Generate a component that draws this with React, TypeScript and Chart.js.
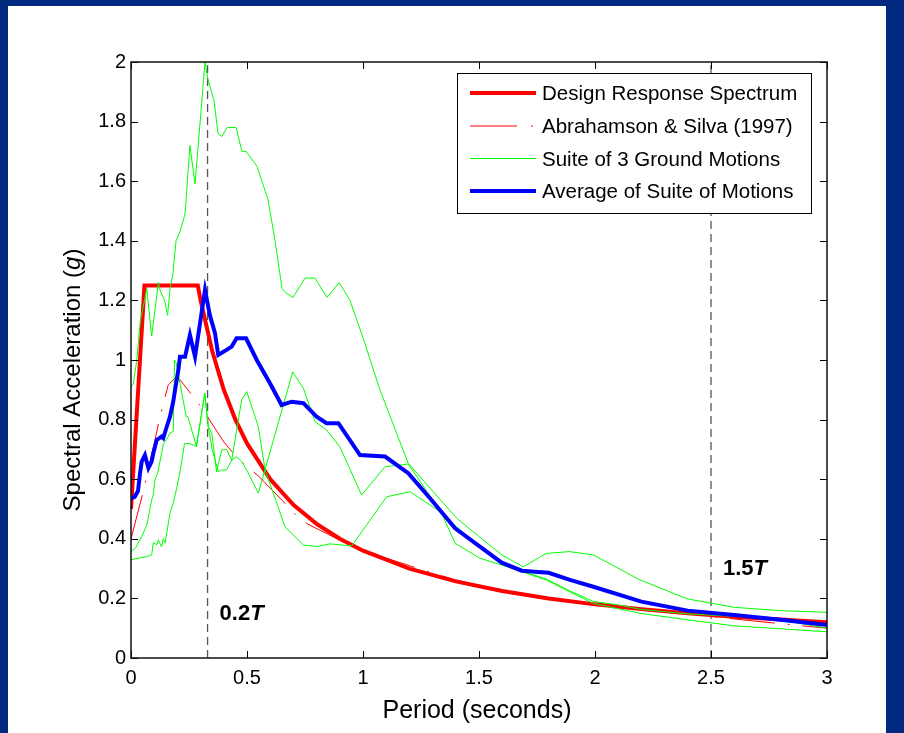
import React, { useEffect, useRef } from 'react';
import { Chart, registerables } from 'chart.js';

Chart.register(...registerables);

// ---------- axis ticks ----------
const xTicks = [0, 0.5, 1, 1.5, 2, 2.5, 3];
const yTicks = [0, 0.2, 0.4, 0.6, 0.8, 1, 1.2, 1.4, 1.6, 1.8, 2];

// ---------- labels ----------
const seriesLabels = [
  'Design Response Spectrum',
  'Abrahamson & Silva (1997)',
  'Suite of 3 Ground Motions',
  'Average of Suite of Motions',
];
const xTitle = 'Period (seconds)';
const yTitleParts = ['Spectral Acceleration (', 'g', ')'];
const markerPeriods = [0.33, 2.5];
const markerLabels = ['0.2', '1.5'];
const markerSuffix = 'T';

// ---------- Design Response Spectrum ----------
const designT = [0, 0.058, 0.288, 0.3, 0.35, 0.4, 0.45, 0.5, 0.6, 0.7, 0.8, 0.9, 1.0, 1.2, 1.4, 1.6, 1.8, 2.0, 2.2, 2.4, 2.6, 2.8, 3.0];
const designSa = [0.5, 1.25, 1.25, 1.2, 1.03, 0.9, 0.8, 0.72, 0.6, 0.514, 0.45, 0.4, 0.36, 0.3, 0.257, 0.225, 0.2, 0.18, 0.164, 0.15, 0.138, 0.129, 0.12];

// ---------- Abrahamson & Silva (1997) ----------
const asT = [0, 0.05, 0.1, 0.125, 0.16, 0.19, 0.21, 0.24, 0.3, 0.35, 0.4, 0.46, 0.55, 0.65, 0.71, 0.76, 0.85, 0.9, 1.0, 1.1, 1.2, 1.3, 1.4, 1.5, 1.6, 1.8, 2.0, 2.2, 2.4, 2.6, 2.8, 3.0];
const asSa = [0.40, 0.55, 0.72, 0.81, 0.915, 0.94, 0.935, 0.905, 0.845, 0.785, 0.725, 0.67, 0.61, 0.53, 0.48, 0.45, 0.415, 0.395, 0.365, 0.335, 0.31, 0.285, 0.262, 0.244, 0.228, 0.203, 0.183, 0.165, 0.148, 0.131, 0.115, 0.10];

// ---------- Ground motion 1 ----------
const gaT = [0, 0.01, 0.025, 0.04, 0.068, 0.089, 0.118, 0.125, 0.139, 0.145, 0.158, 0.168, 0.181, 0.194, 0.211, 0.233, 0.254, 0.276, 0.319, 0.332, 0.358, 0.375, 0.392, 0.414, 0.453, 0.478, 0.496, 0.543, 0.59, 0.621, 0.651, 0.668, 0.698, 0.75, 0.793, 0.845, 0.897, 0.944, 1.0, 1.073, 1.195, 1.404, 1.598, 1.691, 1.79, 1.89, 1.993, 2.194, 2.4, 2.6, 2.8, 3.0];
const gaSa = [0.91, 0.92, 1.0, 1.13, 1.24, 1.08, 1.26, 1.235, 1.21, 1.2, 1.15, 1.24, 1.29, 1.40, 1.43, 1.49, 1.72, 1.59, 2.0, 1.94, 1.87, 1.76, 1.75, 1.78, 1.78, 1.70, 1.70, 1.65, 1.54, 1.40, 1.24, 1.225, 1.21, 1.275, 1.275, 1.21, 1.26, 1.20, 1.075, 0.90, 0.653, 0.469, 0.346, 0.306, 0.351, 0.357, 0.346, 0.262, 0.198, 0.17, 0.159, 0.153];

// ---------- Ground motion 2 ----------
const gbT = [0, 0.03, 0.068, 0.089, 0.096, 0.111, 0.118, 0.132, 0.139, 0.147, 0.168, 0.182, 0.197, 0.21, 0.231, 0.25, 0.282, 0.318, 0.333, 0.35, 0.376, 0.391, 0.412, 0.434, 0.477, 0.499, 0.549, 0.578, 0.664, 0.743, 0.80, 0.858, 0.951, 1.102, 1.203, 1.332, 1.404, 1.504, 1.598, 1.69, 1.79, 1.892, 1.993, 2.1, 2.2, 2.4, 2.6, 2.8, 3.0];
const gbSa = [0.33, 0.335, 0.34, 0.346, 0.387, 0.38, 0.396, 0.373, 0.40, 0.386, 0.486, 0.52, 0.57, 0.62, 0.72, 0.72, 0.71, 0.888, 0.776, 0.70, 0.625, 0.631, 0.631, 0.664, 0.866, 0.894, 0.776, 0.631, 0.44, 0.379, 0.374, 0.383, 0.376, 0.541, 0.558, 0.491, 0.44, 0.374, 0.325, 0.29, 0.265, 0.225, 0.19, 0.178, 0.163, 0.148, 0.14, 0.128, 0.10];

// ---------- Ground motion 3 ----------
const gcT = [0, 0.02, 0.046, 0.068, 0.089, 0.096, 0.103, 0.115, 0.125, 0.14, 0.155, 0.168, 0.182, 0.188, 0.195, 0.238, 0.245, 0.282, 0.318, 0.333, 0.348, 0.369, 0.391, 0.412, 0.434, 0.455, 0.477, 0.506, 0.549, 0.697, 0.743, 0.793, 0.843, 0.90, 0.994, 1.095, 1.195, 1.339, 1.397, 1.504, 1.598, 1.79, 1.892, 1.993, 2.194, 2.4, 2.6, 2.8, 3.0];
const gcSa = [0.357, 0.37, 0.407, 0.446, 0.53, 0.547, 0.597, 0.62, 0.66, 0.72, 0.735, 0.755, 0.76, 1.0, 0.99, 0.81, 0.81, 0.71, 0.888, 0.776, 0.754, 0.625, 0.698, 0.70, 0.664, 0.675, 0.66, 0.62, 0.553, 0.96, 0.905, 0.793, 0.765, 0.709, 0.547, 0.642, 0.651, 0.486, 0.385, 0.335, 0.312, 0.262, 0.222, 0.183, 0.15, 0.128, 0.108, 0.098, 0.088];

// ---------- Average of suite ----------
const avT = [0, 0.016, 0.03, 0.039, 0.046, 0.06, 0.075, 0.089, 0.096, 0.111, 0.132, 0.139, 0.154, 0.168, 0.182, 0.19, 0.204, 0.211, 0.233, 0.254, 0.276, 0.319, 0.34, 0.362, 0.376, 0.412, 0.434, 0.455, 0.496, 0.542, 0.599, 0.649, 0.693, 0.743, 0.80, 0.843, 0.894, 0.987, 1.095, 1.195, 1.289, 1.397, 1.504, 1.598, 1.684, 1.80, 1.892, 1.993, 2.2, 2.4, 2.6, 2.8, 3.0];
const avSa = [0.536, 0.541, 0.56, 0.62, 0.659, 0.681, 0.637, 0.659, 0.687, 0.732, 0.743, 0.738, 0.776, 0.81, 0.86, 0.90, 0.966, 1.011, 1.011, 1.084, 1.011, 1.235, 1.15, 1.09, 1.017, 1.034, 1.045, 1.073, 1.073, 1.0, 0.922, 0.849, 0.86, 0.855, 0.81, 0.788, 0.788, 0.681, 0.676, 0.62, 0.536, 0.435, 0.374, 0.32, 0.293, 0.286, 0.262, 0.239, 0.189, 0.159, 0.144, 0.128, 0.111];

const FONT = '"Liberation Sans", Arial, Helvetica, sans-serif';
const AS_DASH = [45, 13, 2, 13];

const zip = (xs: number[], ys: number[]) => xs.map((x, i) => ({ x, y: ys[i] }));

const decorPlugin = {
  id: 'decor',
  afterDatasetsDraw(chart: any) {
    const { ctx, chartArea, scales } = chart;
    const { left, right, top, bottom } = chartArea;
    const xs = scales.x;
    const ys = scales.y;
    ctx.save();
    // inward ticks on all four sides
    ctx.strokeStyle = '#000';
    ctx.lineWidth = 1;
    ctx.beginPath();
    xTicks.forEach((v) => {
      const p = Math.round(xs.getPixelForValue(v)) + 0.5;
      ctx.moveTo(p, bottom); ctx.lineTo(p, bottom - 7);
      ctx.moveTo(p, top); ctx.lineTo(p, top + 7);
    });
    yTicks.forEach((v) => {
      const p = Math.round(ys.getPixelForValue(v)) + 0.5;
      ctx.moveTo(left, p); ctx.lineTo(left + 7, p);
      ctx.moveTo(right, p); ctx.lineTo(right - 7, p);
    });
    ctx.stroke();
    ctx.lineWidth = 1.5;
    ctx.strokeStyle = '#111';
    ctx.strokeRect(left, top, right - left, bottom - top);

    // marker annotations (0.2T, 1.5T)
    const textSa = [0.128, 0.279];
    markerPeriods.forEach((p, i) => {
      const x0 = xs.getPixelForValue(p) + 12;
      const yb = ys.getPixelForValue(textSa[i]);
      ctx.fillStyle = '#000';
      ctx.textBaseline = 'alphabetic';
      ctx.textAlign = 'left';
      ctx.font = `bold 22px ${FONT}`;
      ctx.fillText(markerLabels[i], x0, yb);
      const w = ctx.measureText(markerLabels[i]).width;
      ctx.font = `italic bold 22px ${FONT}`;
      ctx.fillText(markerSuffix, x0 + w, yb);
    });
    ctx.restore();
  },
  afterDraw(chart: any) {
    const { ctx, chartArea } = chart;
    const { left, right, top, bottom } = chartArea;
    ctx.save();
    ctx.fillStyle = '#000';
    // x title
    ctx.font = `25px ${FONT}`;
    ctx.textAlign = 'center';
    ctx.textBaseline = 'alphabetic';
    ctx.fillText(xTitle, (left + right) / 2 - 2, bottom + 60);

    // y title with italic g
    ctx.save();
    ctx.translate(80, (top + bottom) / 2 + 20);
    ctx.rotate(-Math.PI / 2);
    ctx.textAlign = 'left';
    const fonts = [`24px ${FONT}`, `italic 24px ${FONT}`, `24px ${FONT}`];
    let total = 0;
    const widths = yTitleParts.map((s, i) => {
      ctx.font = fonts[i];
      const w = ctx.measureText(s).width;
      total += w;
      return w;
    });
    let cx = -total / 2;
    yTitleParts.forEach((s, i) => {
      ctx.font = fonts[i];
      ctx.fillText(s, cx, 0);
      cx += widths[i];
    });
    ctx.restore();

    // legend box
    const bw = 354;
    const bh = 140;
    const lx = right - 16 - bw;
    const ly = top + 11;
    ctx.fillStyle = '#fff';
    ctx.fillRect(lx, ly, bw, bh);
    ctx.strokeStyle = '#000';
    ctx.lineWidth = 1;
    ctx.strokeRect(lx + 0.5, ly + 0.5, bw, bh);
    const rowLine = [20, 53, 85.5, 118];
    const rowBase = [27, 60, 92.5, 125];
    seriesLabels.forEach((label, i) => {
      const ds = chart.data.datasets.find((d: any) => d.label === label);
      if (!ds) return;
      ctx.save();
      ctx.strokeStyle = ds.borderColor;
      ctx.lineWidth = ds.borderWidth;
      ctx.setLineDash(ds.borderDash && ds.borderDash.length ? [47, 14, 2, 14] : []);
      ctx.beginPath();
      const yl = ly + rowLine[i];
      ctx.moveTo(lx + 13, yl);
      ctx.lineTo(lx + 79, yl);
      ctx.stroke();
      ctx.restore();
      ctx.fillStyle = '#000';
      ctx.font = `20.5px ${FONT}`;
      ctx.textAlign = 'left';
      ctx.textBaseline = 'alphabetic';
      ctx.fillText(label, lx + 85, ly + rowBase[i]);
    });
    ctx.restore();
  },
};

export default function App() {
  const ref = useRef<HTMLCanvasElement>(null);

  useEffect(() => {
    if (!ref.current) return;
    const markerDatasets = markerPeriods.map((p) => ({
      label: '',
      data: [
        { x: p, y: yTicks[0] },
        { x: p, y: yTicks[yTicks.length - 1] },
      ],
      borderColor: '#555555',
      borderWidth: 1.3,
      borderDash: [8, 5],
      pointRadius: 0,
      order: 10,
    }));
    const greenStyle = {
      borderColor: '#00ff00',
      borderWidth: 1,
      pointRadius: 0,
      order: 2,
    };
    const chart = new Chart(ref.current, {
      type: 'line',
      data: {
        datasets: [
          {
            label: seriesLabels[3],
            data: zip(avT, avSa),
            borderColor: '#0000ff',
            borderWidth: 4,
            pointRadius: 0,
            order: 0,
          },
          { label: seriesLabels[2], data: zip(gaT, gaSa), ...greenStyle },
          { label: seriesLabels[2] + ' 2', data: zip(gbT, gbSa), ...greenStyle },
          { label: seriesLabels[2] + ' 3', data: zip(gcT, gcSa), ...greenStyle },
          {
            label: seriesLabels[1],
            data: zip(asT, asSa),
            borderColor: '#ff0000',
            borderWidth: 1,
            borderDash: AS_DASH,
            pointRadius: 0,
            order: 3,
          },
          {
            label: seriesLabels[0],
            data: zip(designT, designSa),
            borderColor: '#ff0000',
            borderWidth: 4,
            pointRadius: 0,
            order: 4,
          },
          ...markerDatasets,
        ] as any,
      },
      options: {
        animation: false,
        responsive: false,
        maintainAspectRatio: false,
        events: [],
        layout: { padding: { left: 0, top: 62, right: 77, bottom: 0 } },
        elements: { line: { tension: 0, fill: false } },
        plugins: {
          legend: { display: false },
          tooltip: { enabled: false },
          title: { display: false },
        },
        scales: {
          x: {
            type: 'linear',
            min: 0,
            max: 3,
            afterBuildTicks: (s: any) => {
              s.ticks = xTicks.map((v) => ({ value: v }));
            },
            afterFit: (s: any) => {
              s.height = 75;
            },
            grid: { display: false, drawTicks: false },
            border: { display: false },
            ticks: {
              padding: 8,
              color: '#000',
              font: { family: FONT, size: 20 },
              maxRotation: 0,
              autoSkip: false,
              callback: (v: any) => String(v),
            },
          },
          y: {
            type: 'linear',
            min: 0,
            max: 2,
            afterBuildTicks: (s: any) => {
              s.ticks = yTicks.map((v) => ({ value: v }));
            },
            afterFit: (s: any) => {
              s.width = 131;
            },
            grid: { display: false, drawTicks: false },
            border: { display: false },
            ticks: {
              padding: 5,
              color: '#000',
              font: { family: FONT, size: 20 },
              autoSkip: false,
              callback: (v: any) => String(v),
            },
          },
        },
      } as any,
      plugins: [decorPlugin as any],
    });
    return () => chart.destroy();
  }, []);

  return (
    <div
      style={{
        position: 'fixed',
        left: 0,
        top: 0,
        width: 904,
        height: 733,
        background: '#00297f',
        overflow: 'hidden',
      }}
    >
      <div
        style={{
          position: 'absolute',
          left: 8,
          top: 6,
          width: 878,
          height: 727,
          background: '#ffffff',
        }}
      />
      <canvas
        ref={ref}
        width={904}
        height={733}
        style={{ position: 'absolute', left: 0, top: 0, width: 904, height: 733 }}
      />
    </div>
  );
}
